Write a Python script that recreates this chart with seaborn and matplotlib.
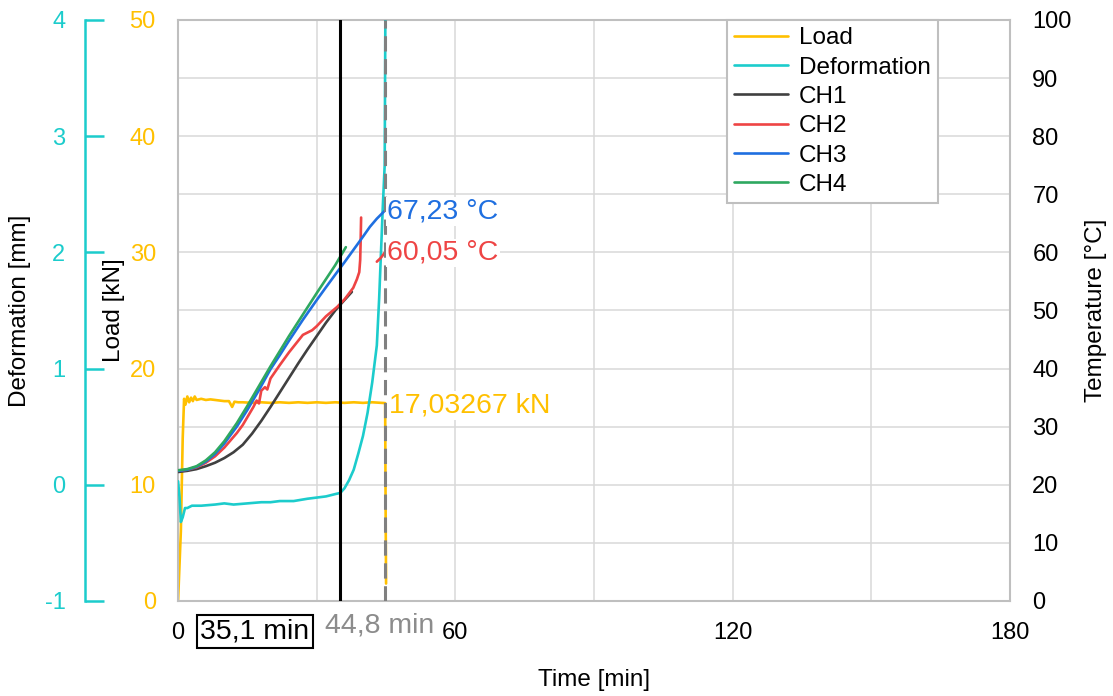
import matplotlib
matplotlib.use("Agg")
import matplotlib.pyplot as plt
import seaborn as sns

# DATA

# Load [kN]
load_t = [0, 0.6, 1.0, 1.3, 1.6, 2.0, 2.4, 2.8, 3.2, 3.6, 4.0, 5, 6, 7, 8, 9, 10, 11, 11.7, 12.2,
          13, 14, 16, 18, 20, 22, 24, 26, 28, 30, 32, 34, 36, 38, 40, 42, 44, 44.8, 44.9, 45.0]
load_kn = [0, 6, 14, 17.4, 16.9, 17.6, 17.1, 17.5, 17.2, 17.6, 17.3, 17.4, 17.3, 17.35, 17.3, 17.25,
           17.2, 17.2, 16.7, 17.15, 17.1, 17.1, 17.05, 17.1, 17.05, 17.1, 17.05, 17.1, 17.05, 17.1,
           17.05, 17.1, 17.05, 17.1, 17.05, 17.1, 17.05, 17.03, 8.0, 1.5]

# Deformation [mm]
def_t = [0, 0.3, 0.6, 1.0, 1.5, 2, 3, 5, 8, 10, 12, 15, 18, 20, 22, 25, 28, 30, 32, 34, 35.1,
         36, 37, 38, 39, 40, 41, 42, 43, 43.5, 44, 44.3, 44.7, 44.85]
def_mm = [0.03, -0.1, -0.32, -0.28, -0.2, -0.2, -0.18, -0.18, -0.17, -0.16, -0.17, -0.16, -0.15,
          -0.15, -0.14, -0.14, -0.12, -0.11, -0.1, -0.08, -0.07, -0.03, 0.04, 0.13, 0.27, 0.42,
          0.62, 0.88, 1.2, 1.6, 2.1, 2.4, 2.75, 4.05]

# Temperatures [°C]
ch1_t = [0, 2, 4, 6, 8, 10, 12, 14, 16, 18, 20, 22, 24, 26, 28, 30, 32, 34, 36, 37.6]
ch1_c = [22.2, 22.4, 22.7, 23.2, 23.8, 24.6, 25.6, 26.9, 28.8, 31.0, 33.4, 35.9, 38.4, 40.9,
         43.3, 45.6, 47.9, 50.0, 51.8, 53.2]

ch2_t = [0, 2, 4, 6, 8, 10, 12.7, 14, 16.3, 17, 17.5, 18, 18.8, 19.3, 20, 22, 24, 26, 27, 28, 29,
         30, 32, 34.4, 36, 37.9, 38.7, 39.2, 39.4, 39.5, 39.6]
ch2_c = [22.4, 22.6, 23.0, 23.8, 24.9, 26.4, 28.9, 30.3, 33.4, 34.5, 34.0, 36.2, 36.8, 36.4, 38.3,
         40.6, 42.8, 44.8, 45.8, 46.2, 46.6, 47.3, 49.0, 50.6, 51.9, 53.9, 55.4, 56.6, 58.7, 62.0,
         66.0]
ch2_tail_t = [43.0, 43.8, 44.8]
ch2_tail_c = [58.4, 59.0, 60.05]

ch3_t = [0, 2, 4, 6, 8, 10, 12.7, 15, 17.5, 20, 22, 24, 27, 30, 32, 34.4, 36, 38, 40, 41.5, 43, 44.8]
ch3_c = [22.4, 22.6, 23.1, 24.0, 25.3, 27.1, 30.0, 32.9, 36.3, 39.9, 42.3, 44.8, 48.4, 51.8, 54.0,
         56.6, 58.3, 60.5, 62.7, 64.4, 65.8, 67.23]

ch4_t = [0, 2, 4, 6, 8, 10, 12.7, 15, 17.5, 20, 22, 24, 27, 30, 32, 34, 36.3]
ch4_c = [22.5, 22.7, 23.2, 24.2, 25.6, 27.5, 30.6, 33.6, 37.0, 40.4, 43.0, 45.6, 49.3, 53.0, 55.4,
         57.8, 60.9]

t_fail_1 = 35.1
t_fail_2 = 44.8

x_ticks = [0, 60, 120, 180]


# STYLE

sns.set_theme(style="white")
plt.rcParams['font.family'] = ['Liberation Sans', 'DejaVu Sans']
plt.rcParams['axes.unicode_minus'] = False
plt.rcParams['text.color'] = 'black'
plt.rcParams['axes.labelcolor'] = 'black'

c_load = '#FFC000'
c_def = '#1CCCCC'
c_ch1 = '#404040'
c_ch2 = '#EE4444'
c_ch3 = '#1F6FE0'
c_ch4 = '#2EA860'
c_grid = '#D9D9D9'
c_frame = '#BFBFBF'
lw = 1.9

fig = plt.figure(figsize=(11.13, 6.96), dpi=100)
ax = fig.add_axes([0.16, 0.1365, 0.7475, 0.8348])
ax_def = ax.twinx()
ax_temp = ax.twinx()


# PLOT

sns.lineplot(x=load_t, y=load_kn, ax=ax, color=c_load, lw=lw, sort=False, estimator=None, label='Load')
sns.lineplot(x=def_t, y=def_mm, ax=ax_def, color=c_def, lw=lw, sort=False, estimator=None, label='Deformation')
sns.lineplot(x=ch1_t, y=ch1_c, ax=ax_temp, color=c_ch1, lw=lw, sort=False, estimator=None, label='CH1')
sns.lineplot(x=ch2_t, y=ch2_c, ax=ax_temp, color=c_ch2, lw=lw, sort=False, estimator=None, label='CH2')
sns.lineplot(x=ch2_tail_t, y=ch2_tail_c, ax=ax_temp, color=c_ch2, lw=lw, sort=False, estimator=None)
sns.lineplot(x=ch3_t, y=ch3_c, ax=ax_temp, color=c_ch3, lw=lw, sort=False, estimator=None, label='CH3')
sns.lineplot(x=ch4_t, y=ch4_c, ax=ax_temp, color=c_ch4, lw=lw, sort=False, estimator=None, label='CH4')

for a in (ax, ax_def, ax_temp):
    if a.get_legend() is not None:
        a.get_legend().remove()

# vertical markers
ax_temp.axvline(t_fail_1, color='black', lw=2.2, zorder=5)
ax_temp.axvline(t_fail_2, color='#808080', lw=2.2, dashes=(5, 2.5), zorder=5)


# AXES

ax.set_xlim(0, 180)
ax.set_ylim(0, 50)
ax_def.set_ylim(-1, 4)
ax_temp.set_ylim(0, 100)

ax.set_xticks(x_ticks)
ax.set_xticks([30, 90, 150], minor=True)
ax.set_yticks(range(0, 51, 10))
ax.set_yticks(range(5, 50, 10), minor=True)
ax.grid(which='both', color=c_grid, lw=1.1)
ax.set_axisbelow(True)
for s in ax.spines.values():
    s.set_color(c_frame)
    s.set_linewidth(1.5)
ax.tick_params(axis='both', which='both', length=0)
ax.tick_params(axis='x', labelsize=17, pad=15, labelcolor='black')
ax.tick_params(axis='y', labelsize=17, pad=16, labelcolor=c_load)

ax.set_xlabel('Time [min]', fontsize=17.5, labelpad=18)
ax.set_ylabel('Load [kN]', fontsize=17.5)
ax.yaxis.set_label_coords(-0.064, 0.5)

# deformation axis, separate spine on the far left
for s in ax_def.spines.values():
    s.set_visible(False)
ax_def.spines['left'].set_visible(True)
ax_def.spines['left'].set_position(('axes', -0.112))
ax_def.spines['left'].set_color(c_def)
ax_def.spines['left'].set_linewidth(1.8)
ax_def.yaxis.set_ticks_position('left')
ax_def.yaxis.set_label_position('left')
ax_def.set_yticks(range(-1, 5))
ax_def.tick_params(axis='y', direction='in', length=14, width=1.8, color=c_def,
                   labelcolor=c_def, labelsize=17, pad=14)
ax_def.set_ylabel('Deformation [mm]', fontsize=17.5)
ax_def.yaxis.set_label_coords(-0.177, 0.5)

for s in ax_temp.spines.values():
    s.set_visible(False)
ax_temp.set_yticks(range(0, 101, 10))
ax_temp.tick_params(axis='y', length=0, labelsize=17, pad=16, labelcolor='black')
ax_temp.set_ylabel('Temperature [°C]', fontsize=17.5)
ax_temp.yaxis.set_label_coords(1.09, 0.5)
ax_def.set_xlabel('')
ax_temp.set_xlabel('')


# ANNOTATIONS

box = dict(facecolor='white', edgecolor='none', pad=1)
ax_temp.text(45.2, 67.0, '67,23 °C', color=c_ch3, fontsize=20.5, va='center', ha='left', bbox=box, zorder=6)
ax_temp.text(45.2, 59.9, '60,05 °C', color=c_ch2, fontsize=20.5, va='center', ha='left', bbox=box, zorder=6)
ax_temp.text(45.6, 33.7, '17,03267 kN', color=c_load, fontsize=20.5, va='center', ha='left', bbox=box, zorder=6)

ax.text(16.55, -0.052, '35,1 min', transform=ax.get_xaxis_transform(), fontsize=20.5, ha='center',
        va='center', bbox=dict(facecolor='white', edgecolor='black', lw=1.5, boxstyle='square,pad=0.12'))
ax.text(43.7, -0.043, '44,8 min', transform=ax.get_xaxis_transform(), fontsize=20.5, ha='center',
        va='center', color='#8C8C8C')


# LEGEND

handles, labels = [], []
for a in (ax, ax_def, ax_temp):
    h, l = a.get_legend_handles_labels()
    handles += h
    labels += l
leg = ax_temp.legend(handles, labels, loc='upper left', bbox_to_anchor=(0.66, 1.0), borderaxespad=0,
                     fontsize=17.5, frameon=True, fancybox=False, edgecolor=c_frame, framealpha=1,
                     labelspacing=0.3, handlelength=2.2, handletextpad=0.45, borderpad=0.3)
leg.get_frame().set_linewidth(1.5)

fig.savefig('out.png', dpi=100)
